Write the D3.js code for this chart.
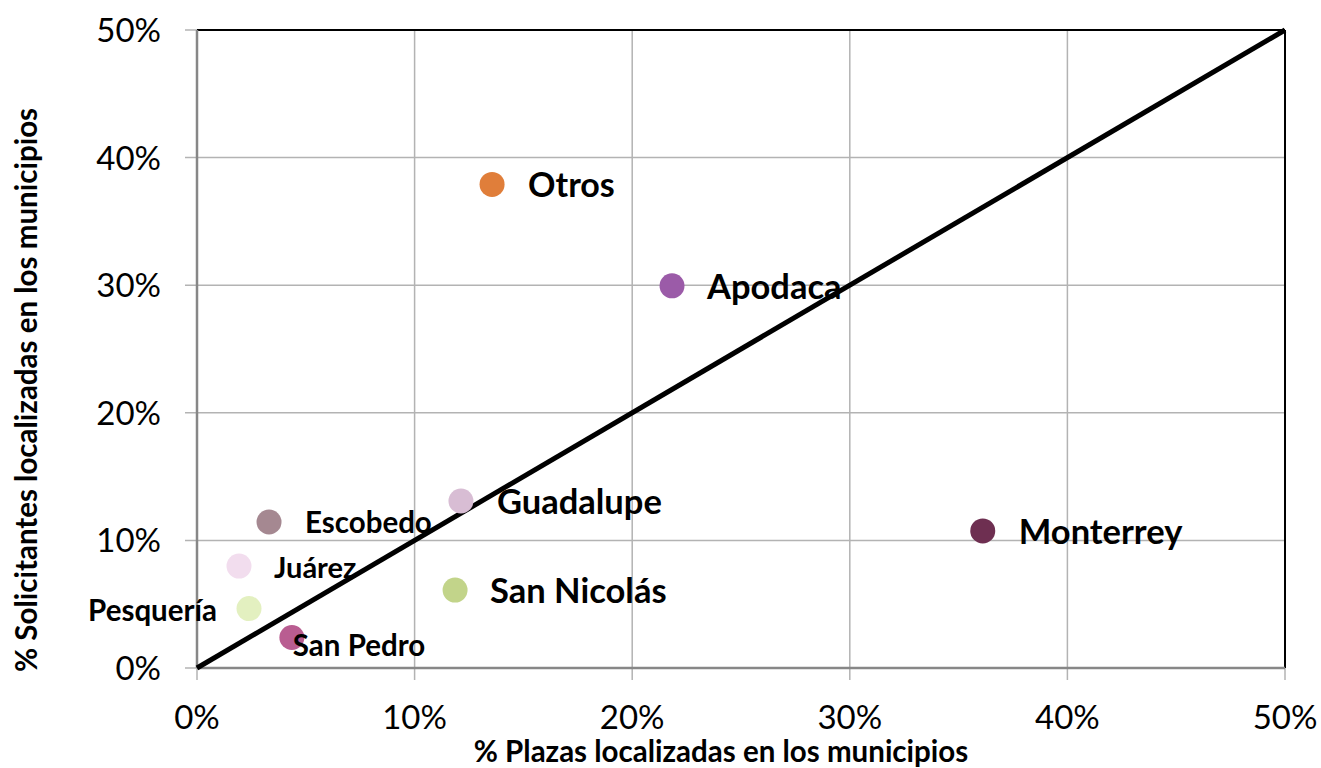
<!DOCTYPE html>
<html lang="es">
<head>
<meta charset="UTF-8">
<title>Plazas vs Solicitantes</title>
<script src="https://d3js.org/d3.v7.min.js"></script>
<style>
  body { margin: 0; background: #fff; }
  text { font-family: Lato, "Open Sans", sans-serif; fill: #000; }
  .grid line { stroke: #b3b3b3; stroke-width: 1.5px; }
  .tick-label { font-size: 33px; }
  .axis-title { font-size: 29.5px; font-weight: bold; }
  .pt-label { font-weight: bold; }
</style>
</head>
<body>
<svg width="1321" height="768"></svg>
<script>
// municipios, % plazas (x) y % solicitantes (y)
const municipios = ['Otros', 'Apodaca', 'Guadalupe', 'Escobedo', 'Juárez', 'Pesquería', 'San Pedro', 'San Nicolás', 'Monterrey'];
const plazas       = [0.1356, 0.2183, 0.1213, 0.0331, 0.0193, 0.0239, 0.0436, 0.1186, 0.3611];
const solicitantes = [0.3790, 0.2995, 0.1309, 0.1144, 0.0799, 0.0466, 0.0239, 0.0611, 0.1074];
const colores = ['#e07e3a', '#9b5ba8', '#d8bdd4', '#a58891', '#f2ddee', '#e3f0c0', '#b95d91', '#c2d48a', '#6e2f51'];
const ticks = [0, 0.1, 0.2, 0.3, 0.4, 0.5];

// label placement: [dx, dy, size, anchor]
const labelPos = [
  [36, 13, 34, 'start'], [35, 13, 34.5, 'start'], [36, 13, 34.5, 'start'],
  [36, 11, 29.5, 'start'], [35, 12, 29, 'start'], [-32, 12, 29.5, 'end'],
  [1, 18, 29.5, 'start'], [35, 13, 34.5, 'start'], [36, 13, 34.5, 'start']
];

const svg = d3.select('svg');
const pLeft = 197, pRight = 1285, pTop = 30, pBottom = 668;

const x = d3.scaleLinear().domain([0, 0.5]).range([pLeft, pRight]);
const y = d3.scaleLinear().domain([0, 0.5]).range([pBottom, pTop]);
const pct = d3.format('.0%');

// gridlines
const grid = svg.append('g').attr('class', 'grid');
grid.selectAll('.gx').data(ticks.slice(1, -1)).enter().append('line')
  .attr('x1', d => x(d)).attr('x2', d => x(d)).attr('y1', pTop).attr('y2', pBottom + 12);
grid.selectAll('.gy').data(ticks.slice(1, -1)).enter().append('line')
  .attr('x1', pLeft - 12).attr('x2', pRight).attr('y1', d => y(d)).attr('y2', d => y(d));

// outer ticks on the axes
grid.selectAll('.tx').data([0, 0.5]).enter().append('line')
  .attr('x1', d => x(d)).attr('x2', d => x(d)).attr('y1', pBottom).attr('y2', pBottom + 12);
grid.selectAll('.ty').data([0, 0.5]).enter().append('line')
  .attr('x1', pLeft - 12).attr('x2', pLeft).attr('y1', d => y(d)).attr('y2', d => y(d));

// plot border: black top/right, grey axes left/bottom
svg.append('line').attr('x1', pLeft).attr('x2', pRight).attr('y1', pTop).attr('y2', pTop)
  .attr('stroke', '#000').attr('stroke-width', 2);
svg.append('line').attr('x1', pRight).attr('x2', pRight).attr('y1', pTop).attr('y2', pBottom)
  .attr('stroke', '#000').attr('stroke-width', 2);
svg.append('line').attr('x1', pLeft).attr('x2', pLeft).attr('y1', pTop).attr('y2', pBottom)
  .attr('stroke', '#878787').attr('stroke-width', 2.5);
svg.append('line').attr('x1', pLeft).attr('x2', pRight).attr('y1', pBottom).attr('y2', pBottom)
  .attr('stroke', '#878787').attr('stroke-width', 2.5);

// tick labels
svg.selectAll('.xl').data(ticks).enter().append('text')
  .attr('class', 'tick-label').attr('x', d => x(d)).attr('y', 729)
  .attr('text-anchor', 'middle').text(pct);
svg.selectAll('.yl').data(ticks).enter().append('text')
  .attr('class', 'tick-label').attr('x', 161).attr('y', d => y(d) + 12)
  .attr('text-anchor', 'end').text(pct);

// axis titles
svg.append('text').attr('class', 'axis-title')
  .attr('x', 721).attr('y', 762).attr('text-anchor', 'middle')
  .text('% Plazas localizadas en los municipios');
svg.append('text').attr('class', 'axis-title')
  .attr('transform', 'translate(37,390) rotate(-90)').attr('text-anchor', 'middle')
  .text('% Solicitantes localizadas en los municipios');

// diagonal reference line
svg.append('line')
  .attr('x1', x(0)).attr('y1', y(0)).attr('x2', x(0.5)).attr('y2', y(0.5))
  .attr('stroke', '#000').attr('stroke-width', 5);

const idx = d3.range(municipios.length);

// points
svg.selectAll('.pt').data(idx).enter().append('circle')
  .attr('cx', i => x(plazas[i])).attr('cy', i => y(solicitantes[i]))
  .attr('r', 12.5).attr('fill', i => colores[i]);

// labels
svg.selectAll('.pt-label').data(idx).enter().append('text')
  .attr('class', 'pt-label')
  .attr('x', i => x(plazas[i]) + labelPos[i][0])
  .attr('y', i => y(solicitantes[i]) + labelPos[i][1])
  .attr('font-size', i => labelPos[i][2])
  .attr('text-anchor', i => labelPos[i][3])
  .text(i => municipios[i]);
</script>
</body>
</html>
